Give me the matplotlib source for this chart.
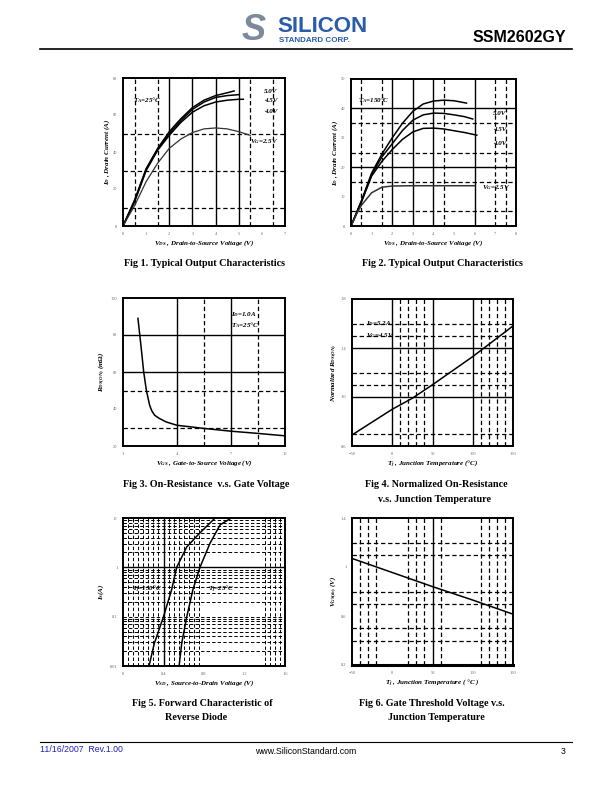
import matplotlib
matplotlib.use("Agg")
import matplotlib.pyplot as plt

plt.rcParams['font.family'] = ['Liberation Serif', 'DejaVu Serif']
plt.rcParams['mathtext.fontset'] = 'custom'
plt.rcParams['mathtext.rm'] = 'Liberation Serif:bold'
plt.rcParams['mathtext.it'] = 'Liberation Serif:bold:italic'
plt.rcParams['mathtext.bf'] = 'Liberation Serif:bold'

# ---- data ----
# Fig 1, Ta = 25C
f1_x50 = [0, 0.5, 1, 1.5, 2, 2.5, 3, 3.5, 4, 4.5, 4.8]
f1_y50 = [0, 14, 31, 42, 51, 58, 64, 68, 70.5, 72, 73]
f1_x45 = [0, 0.5, 1, 1.5, 2, 2.5, 3, 3.5, 4, 4.5, 5.0]
f1_y45 = [0, 13.5, 30.5, 41.5, 50, 57, 63, 67, 69.5, 70.5, 71]
f1_x40 = [0, 0.5, 1, 1.5, 2, 2.5, 3, 3.5, 4, 4.5, 5, 5.2]
f1_y40 = [0, 13, 30, 41, 49, 56, 61.5, 65, 67, 68, 68.5, 68.5]
f1_x25 = [0, 0.5, 1, 1.5, 2, 2.5, 3, 3.5, 4, 4.5, 5, 5.5]
f1_y25 = [0, 11, 24, 34, 42, 47, 50.5, 52.5, 53, 52.5, 51, 49]

# Fig 2, Ta = 150C
f2_x50 = [0, 0.5, 1, 1.5, 2, 2.5, 3, 3.5, 4, 4.5, 5, 5.6]
f2_y50 = [0, 8.5, 18, 24.5, 30, 35, 39, 41.5, 42.5, 42.8, 42.6, 41.8]
f2_x45 = [0, 0.5, 1, 1.5, 2, 2.5, 3, 3.5, 4, 4.5, 5, 5.5, 5.9]
f2_y45 = [0, 8.3, 17.5, 23.5, 28, 32.5, 36, 37.8, 38.4, 38.3, 37.8, 37.2, 36.4]
f2_x40 = [0, 0.5, 1, 1.5, 2, 2.5, 3, 3.5, 4, 4.5, 5, 5.5, 6.1]
f2_y40 = [0, 8, 17, 22, 26, 29.5, 32, 33.2, 33.3, 33, 32.4, 31.8, 30.9]
f2_x25 = [0, 0.3, 0.5, 1, 1.5, 2, 3, 4, 5, 6]
f2_y25 = [0, 4.5, 7, 11.3, 13.2, 13.6, 13.7, 13.7, 13.7, 13.7]

# Fig 3, Rds(on) vs Vgs
f3_vgs = [1.83, 2.0, 2.15, 2.3, 2.48, 2.6, 2.76, 3.0, 3.4, 4.0, 5.5, 7.0, 8.5, 10.0]
f3_rds = [89, 74, 60, 50, 42, 39, 36.6, 35, 33, 31.2, 29.5, 28, 26.8, 25.5]

# Fig 4, normalized Rds(on) vs Tj
f4_tj = [-50, 0, 25, 50, 100, 150]
f4_rn = [0.69, 0.90, 0.99, 1.10, 1.33, 1.58]

# Fig 5, body diode
f5_v150 = [0.257, 0.31, 0.40, 0.48, 0.53, 0.63, 0.76, 0.91]
f5_i150 = [0.01, 0.029, 0.1, 0.35, 1, 2.6, 5, 10]
f5_v25 = [0.554, 0.58, 0.63, 0.69, 0.76, 0.86, 0.96, 1.07]
f5_i25 = [0.01, 0.029, 0.1, 0.35, 1, 3.1, 7.3, 10]

# Fig 6, Vgs(th) vs Tj
f6_tj = [-50, 0, 50, 100, 150]
f6_vth = [1.07, 0.955, 0.84, 0.73, 0.615]

W, H = 612, 792
fig = plt.figure(figsize=(6.12, 7.92), dpi=100)


def px_axes(l, t, r, b):
    return fig.add_axes([l / W, 1 - b / H, (r - l) / W, (b - t) / H])


def ftext(x, y, s, **kw):
    fig.text(x / W, 1 - y / H, s, **kw)


def style(ax):
    for sp in ax.spines.values():
        sp.set_linewidth(1.4)
    ax.tick_params(labelsize=3.2, length=0, pad=4, labelcolor='#666666')


def grid(ax, vs=(), vd=(), hs=(), hd=(), dlw=0.9):
    for x in vs:
        ax.axvline(x, color='black', lw=1.0, zorder=1)
    for x in vd:
        ax.axvline(x, color='black', lw=dlw, ls=(0, (3.5, 2.2)), zorder=1)
    for y in hs:
        ax.axhline(y, color='black', lw=1.0, zorder=1)
    for y in hd:
        ax.axhline(y, color='black', lw=dlw, ls=(0, (3.5, 2.2)), zorder=1)


lab = dict(fontsize=5, fontweight='bold', fontstyle='italic')
ann = dict(fontsize=5, fontweight='bold', fontstyle='italic')

# ---- Fig 1 ----
ax1 = px_axes(123, 78, 285, 226)
style(ax1)
ax1.set_xlim(0, 7)
ax1.set_ylim(0, 80)
ax1.set_xticks(range(8))
ax1.set_yticks([0, 20, 40, 60, 80])
grid(ax1, vs=[2, 3, 4, 5], vd=[0.5, 1.5, 5.5, 6.5], hd=[10, 30, 50])
ax1.plot(f1_x50, f1_y50, color='black', lw=1.1)
ax1.plot(f1_x45, f1_y45, color='black', lw=1.1)
ax1.plot(f1_x40, f1_y40, color='black', lw=1.1)
ax1.plot(f1_x25, f1_y25, color='#333333', lw=0.9)
ax1.text(0.45, 67, r"$T_A$=25°C", **ann)
ax1.text(6.1, 72, "5.0V", **ann)
ax1.text(6.1, 67, "4.5V", **ann)
ax1.text(6.1, 61, "4.0V", **ann)
ax1.text(5.5, 45, r"$V_G$=2.5V", **ann)
ax1.set_xlabel(r"$V_{DS}$ , Drain-to-Source Voltage (V)", labelpad=2, **lab)
ax1.set_ylabel(r"$I_D$ , Drain Current (A)", labelpad=1, **lab)

# ---- Fig 2 ----
ax2 = px_axes(351, 79, 516, 226)
style(ax2)
ax2.set_xlim(0, 8)
ax2.set_ylim(0, 50)
ax2.set_xticks(range(9))
ax2.set_yticks([0, 10, 20, 30, 40, 50])
grid(ax2, vs=[2, 3, 4, 6], vd=[0.5, 1.5, 4.5, 7, 7.5], hs=[20, 40], hd=[5, 15, 25, 35])
ax2.plot(f2_x50, f2_y50, color='black', lw=1.1)
ax2.plot(f2_x45, f2_y45, color='black', lw=1.1)
ax2.plot(f2_x40, f2_y40, color='black', lw=1.1)
ax2.plot(f2_x25, f2_y25, color='#333333', lw=1.1)
ax2.text(0.35, 42, r"$T_A$=150°C", **ann)
ax2.text(6.9, 37.8, "5.0V", **ann)
ax2.text(6.9, 32.2, "4.5V", **ann)
ax2.text(6.9, 27.4, "4.0V", **ann)
ax2.text(6.35, 12.6, r"$V_G$=2.5V", **ann)
ax2.set_xlabel(r"$V_{DS}$ , Drain-to-Source Voltage (V)", labelpad=2, **lab)
ax2.set_ylabel(r"$I_D$ , Drain Current (A)", labelpad=1, **lab)

# ---- Fig 3 ----
ax3 = px_axes(123, 298, 285, 446)
style(ax3)
ax3.set_xlim(1, 10)
ax3.set_ylim(20, 100)
ax3.set_xticks([1, 4, 7, 10])
ax3.set_yticks([20, 40, 60, 80, 100])
grid(ax3, vs=[4, 7], vd=[5.5, 8.5], hs=[60, 80], hd=[30, 50])
ax3.plot(f3_vgs, f3_rds, color='black', lw=1.1)
ax3.text(7.0, 90, r"$I_D$=1.0A", **ann)
ax3.text(7.0, 84, r"$T_A$=25°C", **ann)
ax3.set_xlabel(r"$V_{GS}$ , Gate-to-Source Voltage (V)", labelpad=2, **lab)
ax3.set_ylabel(r"$R_{DS(ON)}$ (m$\Omega$)", labelpad=3, **lab)

# ---- Fig 4 ----
ax4 = px_axes(352, 299, 513, 446)
style(ax4)
ax4.set_xlim(-50, 150)
ax4.set_ylim(0.6, 1.8)
ax4.set_xticks([-50, 0, 50, 100, 150])
ax4.set_yticks([0.6, 1.0, 1.4, 1.8])
grid(ax4, vs=[0, 50, 100], vd=[10, 20, 30, 40, 110, 120, 130, 140],
     hs=[1.0, 1.4], hd=[0.7, 1.1, 1.2, 1.5, 1.6])
ax4.plot(f4_tj, f4_rn, color='black', lw=1.1)
ax4.text(-32, 1.59, r"$I_D$=5.2A", **ann)
ax4.text(-32, 1.49, r"$V_G$=4.5V", **ann)
ax4.set_xlabel(r"$T_j$ , Junction Temperature (°C)", labelpad=2, **lab)
ax4.set_ylabel(r"Normalized $R_{DS(ON)}$", labelpad=1, **lab)

# ---- Fig 5 ----
ax5 = px_axes(123, 518, 285, 666)
style(ax5)
ax5.set_xlim(0, 1.6)
ax5.set_yscale('log')
ax5.set_ylim(0.01, 10)
ax5.set_xticks([0, 0.4, 0.8, 1.2, 1.6])
ax5.set_xticklabels(['0', '0.4', '0.8', '1.2', '1.6'])
ax5.set_yticks([0.01, 0.1, 1, 10])
ax5.set_yticklabels(['0.01', '0.1', '1', '10'])
ax5.minorticks_off()
minors = [k * d for d in (0.01, 0.1, 1) for k in range(2, 10)]
vd5 = [0.05, 0.1, 0.15, 0.2, 0.25, 0.3, 0.35, 0.45, 0.5, 0.55, 0.6, 0.65, 0.7, 0.75,
       1.4, 1.45, 1.5, 1.55]
grid(ax5, vs=[0.4], vd=vd5, hs=[1], hd=minors + [0.1], dlw=0.7)
ax5.plot(f5_v150, f5_i150, color='black', lw=1.1)
ax5.plot(f5_v25, f5_i25, color='black', lw=1.1)
ax5.text(0.09, 0.33, r"$T_j$=150°C", **ann)
ax5.text(0.84, 0.33, r"$T_j$=25°C", **ann)
ax5.set_xlabel(r"$V_{SD}$ , Source-to-Drain Voltage (V)", labelpad=2, **lab)
ax5.set_ylabel(r"$I_S$(A)", labelpad=3, **lab)

# ---- Fig 6 ----
ax6 = px_axes(352, 518, 513, 665)
style(ax6)
ax6.spines['bottom'].set_linewidth(2.2)
ax6.set_xlim(-50, 150)
ax6.set_ylim(0.2, 1.4)
ax6.set_xticks([-50, 0, 50, 100, 150])
ax6.set_yticks([0.2, 0.6, 1.0, 1.4])
ax6.set_yticklabels(['0.2', '0.6', '1', '1.4'])
grid(ax6, vs=[50], vd=[-40, -30, -20, 20, 30, 40, 60, 110, 120, 130, 140],
     hd=[0.4, 0.5, 0.7, 0.8, 1.1, 1.2])
ax6.plot(f6_tj, f6_vth, color='black', lw=1.1)
ax6.set_xlabel(r"$T_j$ , Junction Temperature ( °C )", labelpad=2, **lab)
ax6.set_ylabel(r"$V_{GS(th)}$ (V)", labelpad=1, **lab)

# ---- captions ----
cap = dict(fontsize=7.3, fontweight='bold', ha='center', va='center')
ftext(205, 264, "Fig 1. Typical Output Characteristics", **cap)
ftext(442, 264, "Fig 2. Typical Output Characteristics", **cap)
ftext(206, 484, "Fig 3. On-Resistance  v.s. Gate Voltage", **cap)
ftext(436, 484, "Fig 4. Normalized On-Resistance", **cap)
ftext(434, 499, "v.s. Junction Temperature", **cap)
ftext(202, 703, "Fig 5. Forward Characteristic of", **cap)
ftext(196, 718, "Reverse Diode", **cap)
ftext(432, 703, "Fig 6. Gate Threshold Voltage v.s.", **cap)
ftext(436, 718, "Junction Temperature", **cap)

# ---- header / footer ----
sans = ['Liberation Sans', 'DejaVu Sans']
ftext(254, 30, "S", fontsize=26, fontweight='heavy', fontstyle='italic', color='#7d8a9c',
      family=sans, ha='center', va='center')
ftext(277, 26, "SILICON", fontsize=16, fontweight='heavy', color='#2a5caa', family=sans,
      va='center')
ftext(279, 40, "STANDARD CORP.", fontsize=5.8, fontweight='heavy', color='#2a5caa',
      family=sans, va='center')
ftext(566, 38, "SSM2602GY", fontsize=11.5, fontweight='bold', family=sans, ha='right',
      va='center')
fig.add_artist(plt.Line2D([40 / W, 572 / W], [1 - 49 / H, 1 - 49 / H], color='black', lw=1.2))
fig.add_artist(plt.Line2D([40 / W, 572 / W], [1 - 742 / H, 1 - 742 / H], color='black', lw=0.8))
ftext(40, 750, "11/16/2007  Rev.1.00", fontsize=6.3, color='#2020c0', family=sans, va='center')
ftext(306, 751, "www.SiliconStandard.com", fontsize=6.3, family=sans, ha='center', va='center')
ftext(566, 751, "3", fontsize=6.3, family=sans, ha='right', va='center')

fig.savefig("out.png", dpi=100)
